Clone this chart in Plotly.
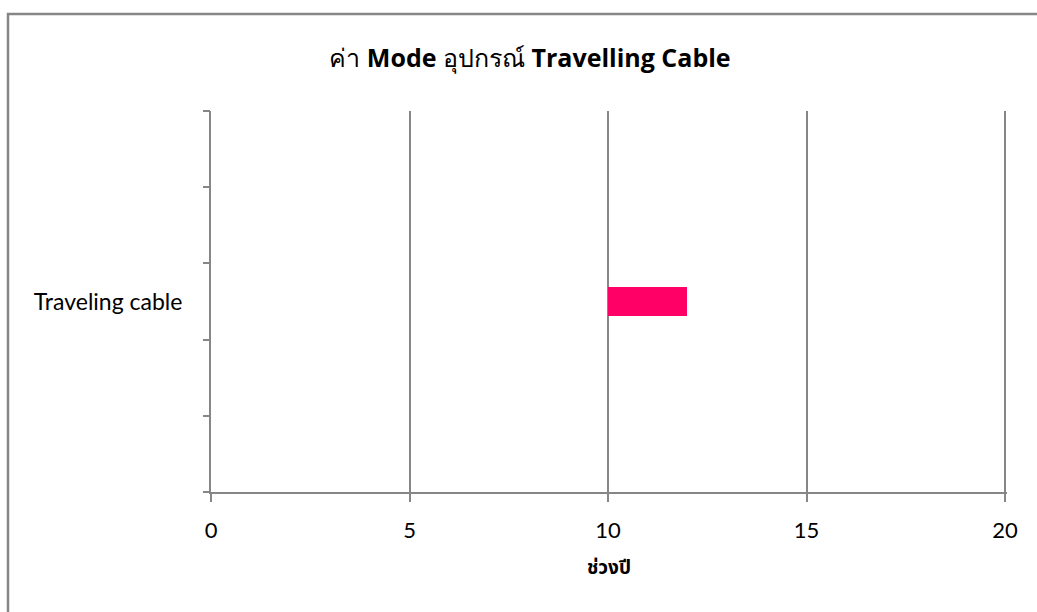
import plotly.graph_objects as go

# Mode range of the travelling cable (years)
categories = ["Traveling cable"]
range_start = [10]
range_end = [12]

x_ticks = [0, 5, 10, 15, 20]

W, H = 1037, 612
X_MAX = 20.05                      # a hair past 20 so the last gridline is drawn
L, T, B = 211, 111, 492            # plot area edges in pixels
R = L + (1005 - L) * X_MAX / 20
GRAY = "#868686"

def px_x(p):
    return (p - L) / (R - L)

def px_y(p):
    return (B - p) / (B - T)

fig = go.Figure()
fig.add_trace(go.Bar(
    y=categories,
    x=[e - s for s, e in zip(range_start, range_end)],
    base=range_start,
    orientation="h",
    width=0.39,
    marker=dict(color="#FF0066", line=dict(width=0)),
    hoverinfo="skip",
    showlegend=False,
))
# invisible trace that carries the boundary tick marks of the category axis
fig.add_trace(go.Scatter(x=[None], y=[None], yaxis="y2", showlegend=False))

fig.update_layout(
    width=W, height=H,
    margin=dict(l=L, r=W - R, t=T, b=H - B, pad=0),
    paper_bgcolor="white", plot_bgcolor="white",
    font=dict(family="Lato, 'Noto Sans', 'Noto Sans Thai', sans-serif", color="black"),
    title=dict(
        text="ค่า <b>Mode</b> อุปกรณ์ <b>Travelling Cable</b>",
        x=530 / W, xref="container", xanchor="center",
        y=1 - 58 / H, yref="container", yanchor="middle",
        font=dict(size=25, family="'Open Sans', 'Noto Sans', sans-serif"),
    ),
    xaxis=dict(
        range=[0, X_MAX], tickvals=x_ticks, ticktext=[str(v) for v in x_ticks],
        showgrid=True, gridcolor=GRAY, gridwidth=1.5,
        zeroline=False,
        showline=True, linecolor=GRAY, linewidth=2,
        ticks="outside", ticklen=8, tickcolor=GRAY, tickwidth=1.5,
        tickfont=dict(size=22), ticklabelstandoff=10,
        title=dict(text="<b>ช่วงปี</b>", font=dict(size=19), standoff=18),
        fixedrange=True,
    ),
    yaxis=dict(
        type="category", range=[-2.5, 2.5],
        showgrid=False, zeroline=False,
        showline=True, linecolor=GRAY, linewidth=2,
        ticks="", tickfont=dict(size=23), ticklabelstandoff=22,
        fixedrange=True,
    ),
    yaxis2=dict(
        overlaying="y", side="left", range=[-2.5, 2.5],
        tickvals=[-2.5, -1.5, -0.5, 0.5, 1.5, 2.5],
        ticktext=[""] * 6,
        ticks="outside", ticklen=7, tickcolor=GRAY, tickwidth=2,
        showgrid=False, zeroline=False, showline=False,
        fixedrange=True,
    ),
    bargap=0,
)

# chart frame (left and top edges visible, continues past the page)
fig.add_shape(
    type="path", xref="paper", yref="paper",
    path=f"M {px_x(8)} {px_y(700)} L {px_x(8)} {px_y(14)} L {px_x(1100)} {px_y(14)}",
    line=dict(color=GRAY, width=2.5),
)

fig.write_html("out.html")
